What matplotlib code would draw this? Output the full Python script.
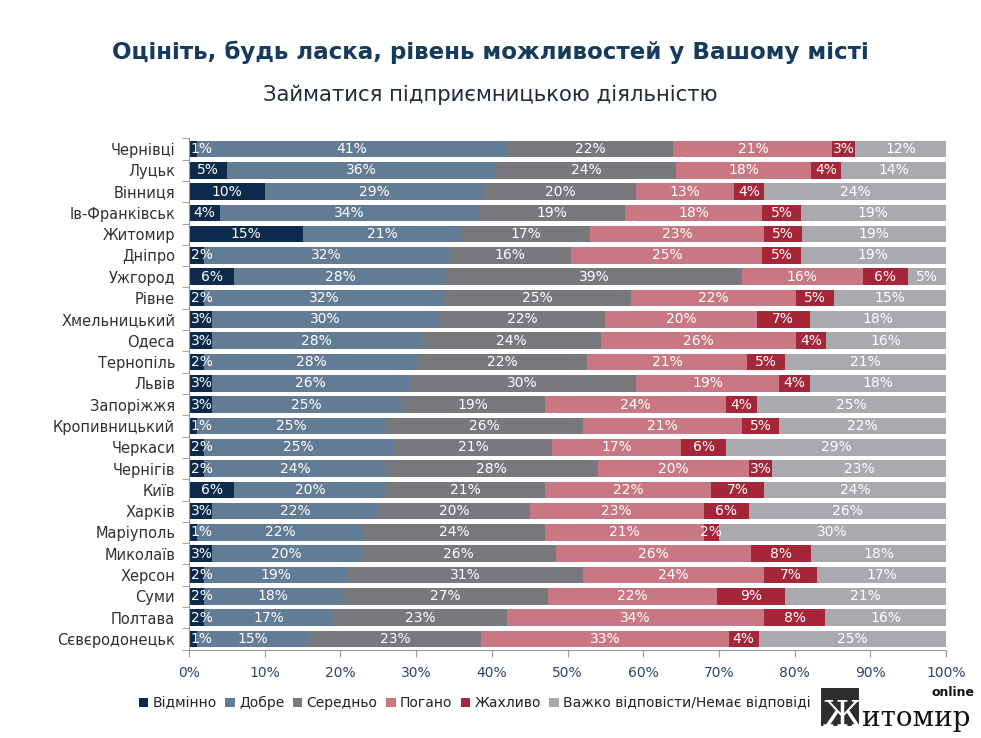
import matplotlib
matplotlib.use("Agg")
import matplotlib.pyplot as plt
from matplotlib.patches import Patch, Rectangle
import numpy as np

cities = ["Чернівці", "Луцьк", "Вінниця", "Ів-Франківськ", "Житомир", "Дніпро",
          "Ужгород", "Рівне", "Хмельницький", "Одеса", "Тернопіль", "Львів",
          "Запоріжжя", "Кропивницький", "Черкаси", "Чернігів", "Київ", "Харків",
          "Маріуполь", "Миколаїв", "Херсон", "Суми", "Полтава", "Сєвєродонецьк"]

categories = ["Відмінно", "Добре", "Середньо", "Погано", "Жахливо",
              "Важко відповісти/Немає відповіді"]

excellent = [1, 5, 10, 4, 15, 2, 6, 2, 3, 3, 2, 3, 3, 1, 2, 2, 6, 3, 1, 3, 2, 2, 2, 1]
good      = [41, 36, 29, 34, 21, 32, 28, 32, 30, 28, 28, 26, 25, 25, 25, 24, 20, 22, 22, 20, 19, 18, 17, 15]
average   = [22, 24, 20, 19, 17, 16, 39, 25, 22, 24, 22, 30, 19, 26, 21, 28, 21, 20, 24, 26, 31, 27, 23, 23]
bad       = [21, 18, 13, 18, 23, 25, 16, 22, 20, 26, 21, 19, 24, 21, 17, 20, 22, 23, 21, 26, 24, 22, 34, 33]
terrible  = [3, 4, 4, 5, 5, 5, 6, 5, 7, 4, 5, 4, 4, 5, 6, 3, 7, 6, 2, 8, 7, 9, 8, 4]
no_answer = [12, 14, 24, 19, 19, 19, 5, 15, 18, 16, 21, 18, 25, 22, 29, 23, 24, 26, 30, 18, 17, 21, 16, 25]

xticks = [0, 10, 20, 30, 40, 50, 60, 70, 80, 90, 100]

colors = ["#0c2a4b", "#637c95", "#78797d", "#c97883", "#a52539", "#aaa9ae"]

series = np.array([excellent, good, average, bad, terrible, no_answer], dtype=float)
shares = series / series.sum(axis=0) * 100.0

fig = plt.figure(figsize=(9.81, 7.38), dpi=100)
ax = fig.add_axes([0.1927, 0.1197, 0.7716, 0.6929])

y = np.arange(len(cities))
left = np.zeros(len(cities))
for k in range(len(categories)):
    ax.barh(y, shares[k], left=left, height=0.78, color=colors[k],
            edgecolor="none", label=categories[k])
    for i in range(len(cities)):
        w = shares[k][i]
        txt = f"{int(series[k][i])}%"
        if k == 0 and series[k][i] <= 3:
            ax.text(left[i] + 0.25, y[i], txt, ha="left", va="center",
                    color="white", fontsize=10)
        else:
            ax.text(left[i] + w / 2, y[i], txt, ha="center", va="center",
                    color="white", fontsize=10)
    left += shares[k]

ax.set_xlim(0, 100)
ax.set_ylim(len(cities) - 0.5, -0.5)
ax.set_yticks(y)
ax.set_yticklabels(cities, fontsize=10.5, color="#303030")
ax.set_yticks(np.arange(-0.5, len(cities)), minor=True)
ax.tick_params(axis="y", which="major", length=0, pad=10)
ax.tick_params(axis="y", which="minor", length=5, color="#9a8f88", direction="out")
ax.set_xticks(xticks)
ax.set_xticklabels([f"{t}%" for t in xticks], fontsize=10, color="#2a4666")
ax.tick_params(axis="x", length=5, color="#9a9a9a", pad=7)
for s in ["top", "right"]:
    ax.spines[s].set_visible(False)
ax.spines["left"].set_color("#a09890")
ax.spines["bottom"].set_color("#9a9a9a")

fig.text(0.5, 0.929, "Оцініть, будь ласка, рівень можливостей у Вашому місті",
         ha="center", va="center", fontsize=16.6, fontweight="bold", color="#173b5c")
fig.text(0.5, 0.871, "Займатися підприємницькою діяльністю",
         ha="center", va="center", fontsize=15.3, color="#1c2c3c")

handles = [Patch(facecolor=c, edgecolor="none") for c in colors]
fig.legend(handles, categories, loc="center", bbox_to_anchor=(0.484, 0.047),
           ncol=6, frameon=False, fontsize=10, handlelength=0.7,
           handleheight=0.7, handletextpad=0.3, columnspacing=0.6,
           labelcolor="#222222")

# watermark logo
fig.patches.append(Rectangle((821 / 981, 1 - 726 / 738), 38 / 981, 38 / 738,
                             transform=fig.transFigure, facecolor="#2e2e2e",
                             edgecolor="none"))
fig.text(823 / 981, 1 - 726 / 738, "Ж", fontsize=25, family="DejaVu Serif",
         color="white", ha="left", va="baseline")
fig.text(862 / 981, 1 - 726 / 738, "итомир", fontsize=20, family="DejaVu Serif",
         color="#111111", ha="left", va="baseline")
fig.text(974 / 981, 1 - 692 / 738, "online", fontsize=9, fontweight="bold",
         color="#111111", ha="right", va="center")

fig.savefig("out.png", dpi=100, facecolor="white")
